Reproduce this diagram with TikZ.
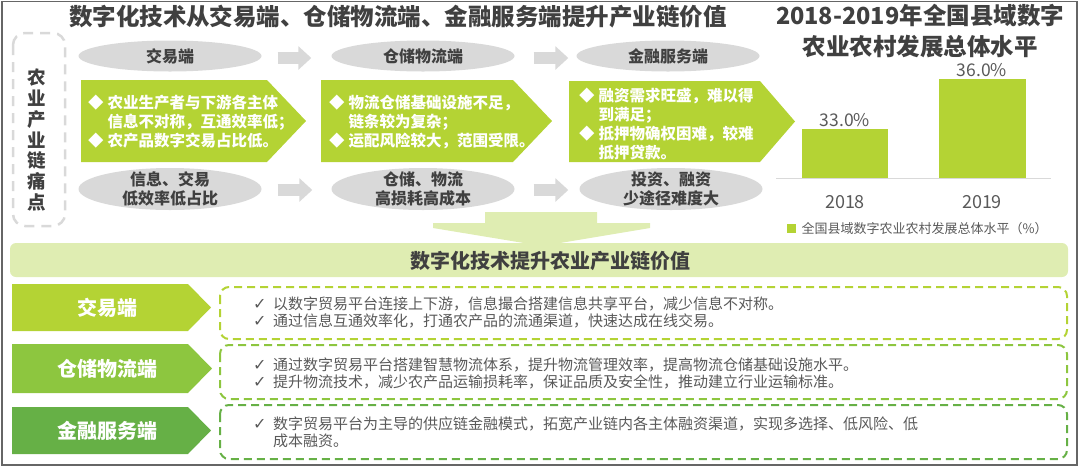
\documentclass[tikz,border=0pt]{standalone}
\usepackage{fontspec}
\setmainfont{Noto Sans CJK SC}
\newfontfamily\symfont{DejaVu Sans}
\usetikzlibrary{shapes.geometric,arrows.meta,calc}

\definecolor{leafgreen}{RGB}{180,211,52}
\definecolor{midgreen}{RGB}{141,198,63}
\definecolor{deepgreen}{RGB}{102,176,70}
\definecolor{palegreen}{RGB}{223,237,178}
\definecolor{softgray}{RGB}{217,217,217}
\definecolor{inkgray}{RGB}{64,64,64}
\definecolor{textgray}{RGB}{89,89,89}

\newcommand\dia{\makebox[1.25em][l]{\fontsize{15.5}{15.5}\selectfont ◆}}
\newcommand\ind{\hspace*{1.25em}}
\newcommand\chk{\makebox[20pt][l]{\symfont\fontsize{16}{16}\selectfont ✓}}
\newcommand\chkind{\hspace*{20pt}}

\tikzset{
  pill/.style={ellipse, fill=softgray, inner sep=0pt, minimum width=183pt},
  pilltext/.style={text=inkgray, font=\bfseries\fontsize{16}{18.5}\selectfont, align=center},
  flowarrow/.style={draw=softgray, line width=12pt, -{Triangle[length=13pt,width=23pt]}},
  pointtext/.style={text=white, font=\bfseries\fontsize{15.5}{19}\selectfont, align=left, anchor=west, inner sep=0pt},
  rowlabel/.style={text=white, font=\bfseries\fontsize{20}{24}\selectfont},
  rowbox/.style={line width=2pt, rounded corners=9pt, dash pattern=on 8pt off 5pt},
  rowtext/.style={text=textgray, font=\fontsize{15}{17}\selectfont, align=left, anchor=west, inner sep=0pt},
  barlabel/.style={text=textgray, font=\fontsize{17.5}{20}\selectfont},
}

\begin{document}
\begin{tikzpicture}[x=1pt, y=-1pt]
    \useasboundingbox (0,0) rectangle (1080,467);
    \draw[black!60, line width=1.2pt] (2,1.5) rectangle (1077,465);

    % Titles
    \node[text=inkgray, font=\bfseries\fontsize{23.5}{28}\selectfont] (title) at (398,17)
        {数字化技术从交易端、仓储物流端、金融服务端提升产业链价值};
    \node[text=inkgray, font=\bfseries\fontsize{23.5}{31}\selectfont, align=center] (charttitle) at (920,31)
        {2018-2019年全国县域数字\\农业农村发展总体水平};

    % Pain points
    \draw[softgray, line width=2.5pt, rounded corners=12pt, dash pattern=on 10pt off 7pt] (13,33) rectangle (65,226);
    \node[text=inkgray, font=\bfseries\fontsize{18.5}{20.8}\selectfont, align=center] (pain) at (37,140)
        {农\\业\\产\\业\\链\\痛\\点};

    \node[pill, minimum height=31pt] (jy) at (170,56) {};
    \node[pill, minimum height=31pt] (cc) at (423,56) {};
    \node[pill, minimum height=31pt] (jr) at (668,56) {};
    \node[pilltext] at (jy) {交易端};
    \node[pilltext] at (cc) {仓储物流端};
    \node[pilltext] at (jr) {金融服务端};
    \draw[flowarrow] ($(jy.east)+(16,2)$) -- ($(cc.west)+(-20,2)$);
    \draw[flowarrow] ($(cc.east)+(19,2)$) -- ($(jr.west)+(-8,2)$);

    \fill[leafgreen] (81,80) -- (267,80) -- (306,121) -- (267,162) -- (81,162) -- cycle;
    \fill[leafgreen] (321,80) -- (513,80) -- (552,121) -- (513,162) -- (321,162) -- cycle;
    \fill[leafgreen] (569,81) -- (760,81) -- (795,121.5) -- (760,162) -- (569,162) -- cycle;
    \node[pointtext] (pt1) at (88,122)
        {\dia 农业生产者与下游各主体\\ \ind 信息不对称，互通效率低；\\ \dia 农产品数字交易占比低。};
    \node[pointtext] (pt2) at (329,122)
        {\dia 物流仓储基础设施不足，\\ \ind 链条较为复杂；\\ \dia 运配风险较大，范围受限。};
    \node[pointtext] (pt3) at (579,124.5)
        {\dia 融资需求旺盛，难以得\\ \ind 到满足；\\ \dia 抵押物确权困难，较难\\ \ind 抵押贷款。};

    \node[pill, minimum height=42pt] (jyb) at (170,189) {};
    \node[pill, minimum height=42pt] (ccb) at (423,189) {};
    \node[pill, minimum height=42pt] (jrb) at (671,189) {};
    \node[pilltext] at (jyb) {信息、交易\\低效率低占比};
    \node[pilltext] at (ccb) {仓储、物流\\高损耗高成本};
    \node[pilltext] at (jrb) {投资、融资\\少途径难度大};
    \draw[flowarrow] ($(jyb.east)+(16,1)$) -- ($(ccb.west)+(-19,1)$);
    \draw[flowarrow] ($(ccb.east)+(19,1)$) -- ($(jrb.west)+(-11,1)$);

    % Bar chart
    \draw[softgray, line width=1pt] (776,178) -- (1051,178);
    \fill[leafgreen] (802,129) rectangle (888,178);
    \fill[leafgreen] (939,79) rectangle (1026,178);
    \node[barlabel] (v18) at (845,120) {33.0\%};
    \node[barlabel] (v19) at (982,70) {36.0\%};
    \node[barlabel, font=\fontsize{18}{20}\selectfont] (y18) at (845,202) {2018};
    \node[barlabel, font=\fontsize{18}{20}\selectfont] (y19) at (982,202) {2019};
    \fill[leafgreen] (787,224) rectangle (796,233);
    \node[text=textgray, font=\fontsize{13}{15}\selectfont, anchor=west] (legend) at (798,228.5)
        {全国县域数字农业农村发展总体水平（\%）};

    % Value lift
    \fill[palegreen] (485,212) -- (597,212) -- (597,223) -- (650,223) -- (650,228) -- (542,246)
        -- (433,228) -- (433,223) -- (485,223) -- cycle;
    \fill[palegreen, rounded corners=6pt] (10,243) rectangle (1068,277);
    \node[text=inkgray, font=\bfseries\fontsize{20}{24}\selectfont] (banner) at (550,261)
        {数字化技术提升农业产业链价值};

    \fill[leafgreen] (12,284) -- (188,284) -- (211,307.5) -- (188,331) -- (12,331) -- cycle;
    \fill[midgreen] (12,344) -- (188,344) -- (212,368.5) -- (188,393) -- (12,393) -- cycle;
    \fill[deepgreen] (12,407) -- (188,407) -- (211,430.5) -- (188,454) -- (12,454) -- cycle;
    \node[rowlabel] (r1) at (107,307.5) {交易端};
    \node[rowlabel] (r2) at (107,368.5) {仓储物流端};
    \node[rowlabel] (r3) at (107,430.5) {金融服务端};

    \draw[rowbox, leafgreen] (220,287) rectangle (1067,339);
    \draw[rowbox, midgreen] (220,345) rectangle (1067,399);
    \draw[rowbox, deepgreen] (220,405) rectangle (1067,459);
    \node[rowtext] (t1) at (253,312)
        {\chk 以数字贸易平台连接上下游，信息撮合搭建信息共享平台，减少信息不对称。\\
         \chk 通过信息互通效率化，打通农产品的流通渠道，快速达成在线交易。};
    \node[rowtext] (t2) at (253,373)
        {\chk 通过数字贸易平台搭建智慧物流体系，提升物流管理效率，提高物流仓储基础设施水平。\\
         \chk 提升物流技术，减少农产品运输损耗率，保证品质及安全性，推动建立行业运输标准。};
    \node[rowtext] (t3) at (253,432)
        {\chk 数字贸易平台为主导的供应链金融模式，拓宽产业链内各主体融资渠道，实现多选择、低风险、低\\
         \chkind 成本融资。};
\end{tikzpicture}
\end{document}
